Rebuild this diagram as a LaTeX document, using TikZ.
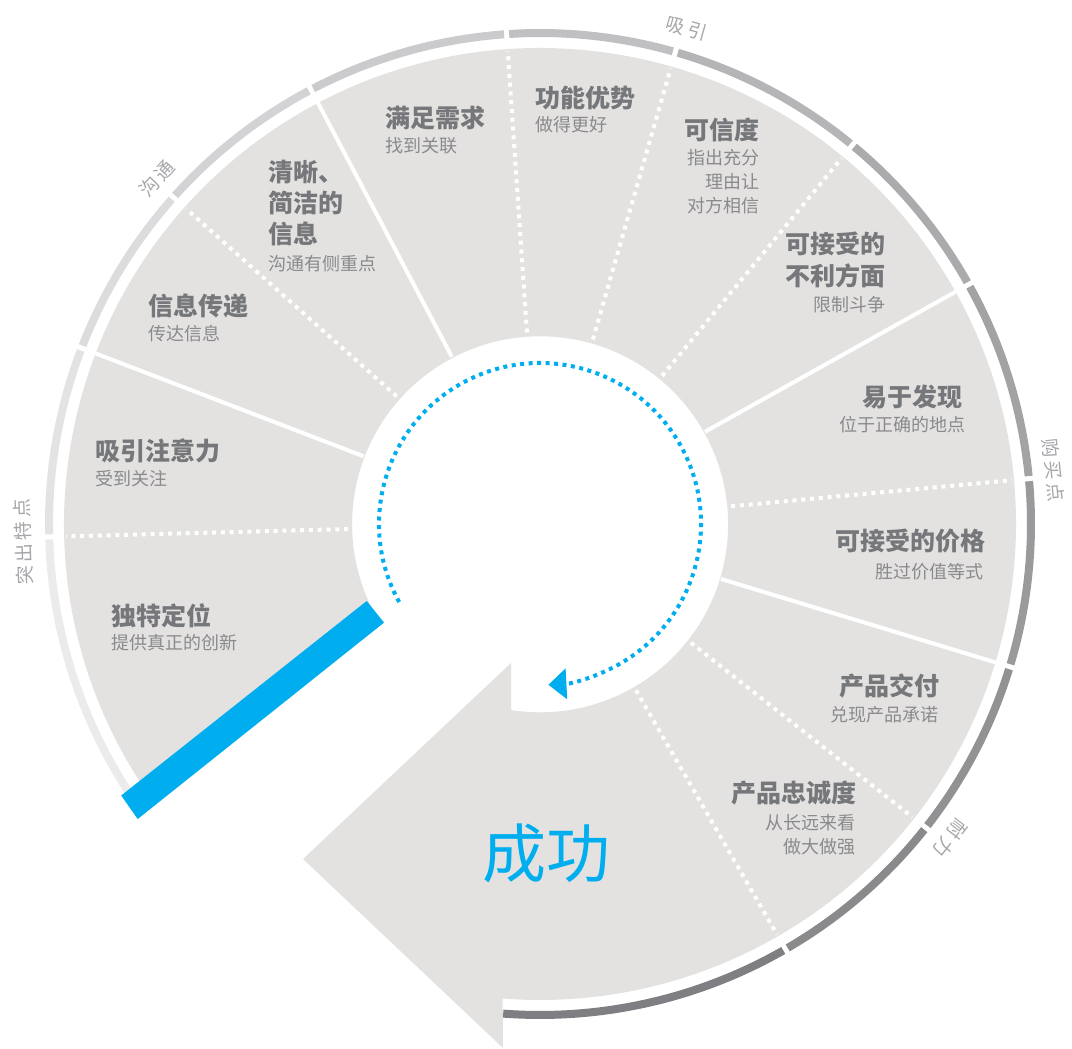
\documentclass[tikz,border=0pt]{standalone}
\usepackage{fontspec}
\setmainfont{Noto Sans CJK SC}
\newfontfamily\phasefont[LetterSpace=18]{Noto Sans CJK SC}
\usetikzlibrary{arrows.meta,calc}
\definecolor{greyfill}{HTML}{E3E2E1}
\definecolor{titlec}{HTML}{76777A}
\definecolor{subc}{HTML}{8A8A8D}
\definecolor{phasec}{HTML}{A6A7AA}
\definecolor{cyanb}{HTML}{00AEEF}
\definecolor{r1}{HTML}{EBEBEC}
\definecolor{r2}{HTML}{E3E3E5}
\definecolor{r3}{HTML}{DCDCDE}
\definecolor{r4}{HTML}{D3D3D5}
\definecolor{r5}{HTML}{CBCBCD}
\definecolor{r6}{HTML}{C0C0C3}
\definecolor{r7}{HTML}{B5B5B8}
\definecolor{r8}{HTML}{ABABAE}
\definecolor{r9}{HTML}{A3A3A6}
\definecolor{r10}{HTML}{9A9A9D}
\definecolor{r11}{HTML}{929295}
\definecolor{r12}{HTML}{8A8A8D}
\definecolor{r13}{HTML}{7F7F83}
\begin{document}
\begin{tikzpicture}[x=1pt,y=1pt,
  title/.style={font=\fontsize{25}{32}\selectfont\bfseries, text=titlec, inner sep=0pt},
  sub/.style={font=\fontsize{18}{24}\selectfont, text=subc, inner sep=0pt},
  phase/.style={font=\phasefont\fontsize{19}{20}\selectfont, text=phasec, inner sep=0pt},
  solidsep/.style={white, line width=4pt},
  dotsep/.style={white, line width=4pt, dash pattern=on 4pt off 4.8pt},
  ringseg/.style={line width=8pt},
]
\useasboundingbox (0,0) rectangle (1072,-1049);
\coordinate (C) at (540,-524);

% grey band with arrow head
\fill[greyfill] (375.4,-611.8) -- ([shift={(214.4:476)}]C)
  arc[start angle=214.4, end angle=-94.5, radius=476]
  -- (503,-1048) -- (303,-859) -- (511,-663) -- (511,-710)
  arc[start angle=-98.9, end angle=207.9, radius=188] -- cycle;

% outer ring segments
\foreach \a/\b/\c [count=\i] in {214/181.5/r1, 181.5/159/r2, 159/138.3/r3, 138.3/117.8/r4,
  117.8/93.9/r5, 93.9/74/r6, 74/50.5/r7, 50.5/29.2/r8, 29.2/5.3/r9, 5.3/-16.9/r10,
  -16.9/-38.2/r11, -38.2/-60/r12, -60/-94.3/r13}{
  \pgfmathsetmacro{\sa}{ifthenelse(\i==1,\a,\a-0.3)}
  \pgfmathsetmacro{\eb}{ifthenelse(\i==13,\b,\b+0.3)}
  \draw[ringseg, \c] ([shift={(\sa:491)}]C) arc[start angle=\sa, end angle=\eb, radius=491];
}

% dividers
\foreach \t in {159,117.8,29.2,-16.9}{
  \draw[solidsep] ([shift={(\t:189)}]C) -- ([shift={(\t:476)}]C);
}
\foreach \t in {181.5,138.3,93.9,74,50.5,5.3,-38.2,-60}{
  \draw[dotsep] ([shift={(\t:192)}]C) -- ([shift={(\t:474)}]C);
}

% blue bar
\fill[cyanb] (366.7,-601) -- (384,-622.6) -- (137.7,-819) -- (121.2,-795.5) -- cycle;

% blue dotted circular arrow
\draw[cyanb, line width=4pt, dash pattern=on 4pt off 4.5pt,
  -{Triangle[length=18pt,width=31pt,line width=0pt]}]
  ([shift={(209:161)}]C) arc[start angle=209, end angle=-87, radius=161];

% phase labels
\node[phase, rotate=92] (p1) at ([shift={(182:517)}]C) {突出特点};
\node[phase, rotate=48] (p2) at ([shift={(138:516)}]C) {沟通};
\node[phase, rotate=-16] (p3) at ([shift={(73.5:517)}]C) {吸引};
\node[phase, rotate=-84] (p4) at ([shift={(6:516)}]C) {购买点};
\node[phase, rotate=-127.5] (p5) at ([shift={(-37.5:517)}]C) {耐力};

% texts, left side
\node[title, anchor=west] (t1) at (111,-616) {独特定位};
\node[sub, anchor=west] (s1) at (111,-643) {提供真正的创新};
\node[title, anchor=west] (t2) at (95,-451) {吸引注意力};
\node[sub, anchor=west] (s2) at (95,-479) {受到关注};
\node[title, anchor=west] (t3) at (148,-306) {信息传递};
\node[sub, anchor=west] (s3) at (148,-334) {传达信息};
\node[title, anchor=west] (t4a) at (268,-172) {清晰、};
\node[title, anchor=west] (t4b) at (268,-203) {简洁的};
\node[title, anchor=west] (t4c) at (268,-234) {信息};
\node[sub, anchor=west] (s4) at (268,-264) {沟通有侧重点};
\node[title, anchor=west] (t5) at (385,-118) {满足需求};
\node[sub, anchor=west] (s5) at (385,-146) {找到关联};
\node[title, anchor=west] (t6) at (535,-98) {功能优势};
\node[sub, anchor=west] (s6) at (535,-125) {做得更好};

% texts, right side
\node[title, anchor=east] (t7) at (760,-130) {可信度};
\node[sub, anchor=east] (s7a) at (760,-158) {指出充分};
\node[sub, anchor=east] (s7b) at (760,-182) {理由让};
\node[sub, anchor=east] (s7c) at (760,-206) {对方相信};
\node[title, anchor=east] (t8a) at (886,-244) {可接受的};
\node[title, anchor=east] (t8b) at (886,-276) {不利方面};
\node[sub, anchor=east] (s8) at (886,-305) {限制斗争};
\node[title, anchor=east] (t9) at (963,-397) {易于发现};
\node[sub, anchor=east] (s9) at (966,-425) {位于正确的地点};
\node[title, anchor=east] (t10) at (986,-541) {可接受的价格};
\node[sub, anchor=east] (s10) at (984,-572) {胜过价值等式};
\node[title, anchor=east] (t11) at (940,-686) {产品交付};
\node[sub, anchor=east] (s11) at (939,-715) {兑现产品承诺};
\node[title, anchor=east] (t12) at (857,-793) {产品忠诚度};
\node[sub, anchor=east] (s12a) at (856,-823) {从长远来看};
\node[sub, anchor=east] (s12b) at (856,-847) {做大做强};

% success
\node[font=\fontsize{64}{64}\selectfont, text=cyanb, inner sep=0pt] (succ) at (546,-853) {成功};
\end{tikzpicture}
\end{document}
